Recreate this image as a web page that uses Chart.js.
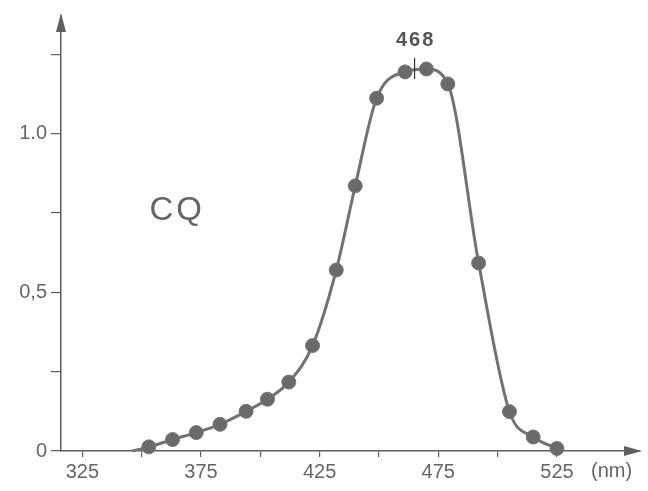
<!DOCTYPE html>
<html>
<head>
<meta charset="utf-8">
<script src="https://cdn.jsdelivr.net/npm/chart.js@4.4.1/dist/chart.umd.min.js"></script>
<style>
  html, body { margin: 0; padding: 0; background: #ffffff; }
  #wrap { width: 648px; height: 491px; }
</style>
</head>
<body>
<div id="wrap"><canvas id="spectrum" width="648" height="491"></canvas></div>
<script>
// absorption spectrum of CQ
const wavelengths = [346, 353, 363, 373, 383, 394, 403, 412, 422, 432, 440, 449, 461, 470, 479, 492, 505, 515, 525];
const absorbance = [0, 0.013, 0.036, 0.058, 0.084, 0.125, 0.163, 0.217, 0.332, 0.570, 0.835, 1.111, 1.194, 1.203, 1.156, 0.592, 0.124, 0.044, 0.008];

const xTicks = [325, 350, 375, 400, 425, 450, 475, 500, 525];
const xTickLabels = ["325", "", "375", "", "425", "", "475", "", "525"];
const yTicks = [0, 0.25, 0.5, 0.75, 1.0, 1.25];
const yTickLabels = ["0", "", "0,5", "", "1.0", ""];

const seriesName = "CQ";
const peakLabel = "468";
const peakMarkAt = 465;
const unitLabel = "(nm)";

const inkColor = "#5f5f5f";
const labelFont = "'Liberation Sans', Arial, sans-serif";

const extras = {
    id: "extras",
    afterDraw(chart) {
        const { ctx, chartArea } = chart;
        const xs = chart.scales.x;
        const ys = chart.scales.y;
        ctx.save();
        ctx.fillStyle = inkColor;

        // arrow heads on both axes
        ctx.beginPath();
        ctx.moveTo(chartArea.left, chartArea.top - 3);
        ctx.lineTo(chartArea.left - 5, chartArea.top + 16);
        ctx.lineTo(chartArea.left + 5, chartArea.top + 16);
        ctx.closePath();
        ctx.fill();

        ctx.beginPath();
        ctx.moveTo(chartArea.right + 2, chartArea.bottom);
        ctx.lineTo(chartArea.right - 16, chartArea.bottom - 5);
        ctx.lineTo(chartArea.right - 16, chartArea.bottom + 5);
        ctx.closePath();
        ctx.fill();

        // unit label after the last tick
        ctx.font = "20px " + labelFont;
        ctx.fillStyle = "#666";
        ctx.textAlign = "center";
        ctx.textBaseline = "top";
        ctx.fillText(unitLabel, xs.getPixelForValue(548), chartArea.bottom + 10);

        // series name
        ctx.font = "33px " + labelFont;
        ctx.letterSpacing = "3px";
        ctx.textBaseline = "middle";
        ctx.fillText(seriesName, xs.getPixelForValue(365), ys.getPixelForValue(0.755));

        // peak wavelength with its small mark
        const px = xs.getPixelForValue(peakMarkAt);
        const py = ys.getPixelForValue(1.2);
        ctx.strokeStyle = "#333";
        ctx.lineWidth = 1.2;
        ctx.beginPath();
        ctx.moveTo(px, py - 12);
        ctx.lineTo(px, py + 9);
        ctx.stroke();
        ctx.font = "bold 20px " + labelFont;
        ctx.letterSpacing = "2px";
        ctx.fillStyle = "#555";
        ctx.textBaseline = "alphabetic";
        ctx.fillText(peakLabel, px + 1, py - 24);

        ctx.restore();
    }
};

const chart = new Chart(document.getElementById("spectrum").getContext("2d"), {
    type: "line",
    data: {
        datasets: [{
            label: seriesName,
            data: wavelengths.map((w, i) => ({ x: w, y: absorbance[i] })),
            borderColor: "#727272",
            borderWidth: 3,
            backgroundColor: "#6a6a6a",
            pointBackgroundColor: "#6a6a6a",
            pointBorderColor: "#777",
            pointBorderWidth: 1,
            pointRadius: ctx => (ctx.dataIndex === 0 ? 0 : 7),
            cubicInterpolationMode: "monotone",
            clip: false,
            fill: false
        }]
    },
    options: {
        responsive: false,
        animation: false,
        layout: { padding: { top: 10, right: 5, left: 0, bottom: 0 } },
        plugins: {
            legend: { display: false },
            tooltip: { enabled: false }
        },
        scales: {
            x: {
                type: "linear",
                min: 316,
                max: 560,
                afterBuildTicks: scale => { scale.ticks = xTicks.map(v => ({ value: v })); },
                afterFit: scale => { scale.height = 40; },
                ticks: {
                    autoSkip: false,
                    maxRotation: 0,
                    padding: 3,
                    color: "#666",
                    font: { family: labelFont, size: 20 },
                    callback: (v, i) => xTickLabels[i]
                },
                grid: { drawOnChartArea: false, drawTicks: true, tickLength: 6, color: inkColor, lineWidth: 1.2 },
                border: { display: true, color: inkColor, width: 1.5 }
            },
            y: {
                type: "linear",
                min: 0,
                max: 1.37,
                afterBuildTicks: scale => { scale.ticks = yTicks.map(v => ({ value: v })); },
                afterFit: scale => { scale.width = 61; },
                ticks: {
                    autoSkip: false,
                    padding: 4,
                    color: "#666",
                    font: { family: labelFont, size: 20 },
                    callback: (v, i) => yTickLabels[i]
                },
                grid: { drawOnChartArea: false, drawTicks: true, tickLength: 10, color: inkColor, lineWidth: 1.2 },
                border: { display: true, color: inkColor, width: 1.5 }
            }
        }
    },
    plugins: [extras]
});
</script>
</body>
</html>
